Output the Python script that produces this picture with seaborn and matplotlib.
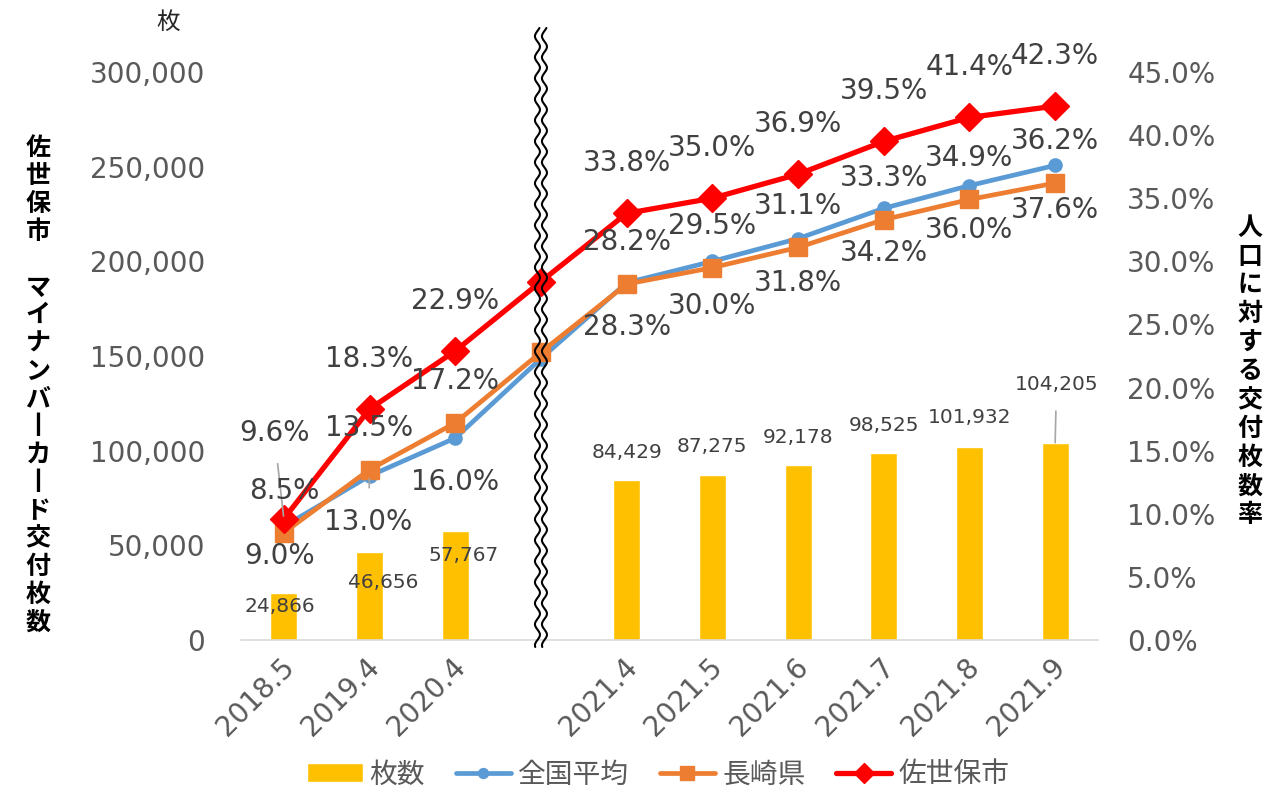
import numpy as np
import pandas as pd
import matplotlib
matplotlib.use('Agg')
import matplotlib.pyplot as plt
import seaborn as sns
from matplotlib.lines import Line2D
from matplotlib.transforms import IdentityTransform, ScaledTranslation
from matplotlib.ticker import FuncFormatter

# data
categories = ["2018.5", "2019.4", "2020.4", "", "2021.4", "2021.5", "2021.6", "2021.7", "2021.8", "2021.9"]
cards = [24866, 46656, 57767, np.nan, 84429, 87275, 92178, 98525, 101932, 104205]
national = [9.0, 13.0, 16.0, 22.3, 28.3, 30.0, 31.8, 34.2, 36.0, 37.6]
nagasaki = [8.5, 13.5, 17.2, 22.8, 28.2, 29.5, 31.1, 33.3, 34.9, 36.2]
sasebo = [9.6, 18.3, 22.9, 28.4, 33.8, 35.0, 36.9, 39.5, 41.4, 42.3]

left_label = "佐世保市　マイナンバ丨カ丨ド交付枚数"
right_label = "人口に対する交付枚数率"

sns.set_style("white")
plt.rcParams['font.family'] = ['DejaVu Sans', 'Noto Sans CJK JP']

W, H = 1278, 808
fig = plt.figure(figsize=(W / 100, H / 100), dpi=100)
ax = fig.add_axes([241 / W, 1 - 640 / H, (1098 - 241) / W, (640 - 72) / H])
ax2 = ax.twinx()

pos = list(range(len(categories)))
df = pd.DataFrame({"cat": categories, "pos": pos, "cards": cards})
bars = df.dropna()

sns.barplot(data=bars, x="cat", y="cards", order=categories, color="#FFC000",
            saturation=1, width=0.315, ax=ax, label="枚数", errorbar=None)
if ax.get_legend() is not None:
    ax.get_legend().remove()

TXT = "#404040"
TICK = "#595959"

# lines on the right axis
series = [
    ("全国平均", national, "#5B9BD5", "o", 9.5, 3.4),
    ("長崎県", nagasaki, "#ED7D31", "s", 13, 3.4),
    ("佐世保市", sasebo, "#FF0000", "D", 14, 3.8),
]
for name, vals, col, mk, ms, lw in series:
    sns.lineplot(x=pos, y=vals, ax=ax2, color=col, marker=mk, markersize=ms,
                 markeredgecolor=col, markeredgewidth=1, linewidth=lw,
                 label=name, legend=False)
if ax2.get_legend() is not None:
    ax2.get_legend().remove()

ax.set_ylim(0, 300000)
ax2.set_ylim(0, 45)
ax.set_xlim(-0.5, 9.5)
ax2.set_xlim(-0.5, 9.5)

# data labels
lbl = dict(ha="center", va="center", fontsize=20, color=TXT, textcoords="offset points")
lead = dict(arrowstyle="-", color="#A6A6A6", lw=1.2)
for i, c in enumerate(categories):
    if c == "":
        continue
    # 佐世保市
    if i == 0:
        ax2.annotate(f"{sasebo[i]:.1f}%", (i, sasebo[i]), xytext=(-7, 62),
                     arrowprops=dict(lead, shrinkA=10, shrinkB=2), **lbl)
    else:
        ax2.annotate(f"{sasebo[i]:.1f}%", (i, sasebo[i]), xytext=(0, 36), **lbl)
    # 長崎県
    ax2.annotate(f"{nagasaki[i]:.1f}%", (i, nagasaki[i]), xytext=(0, 30), **lbl)
    # 全国平均
    if i == 0:
        ax2.annotate(f"{national[i]:.1f}%", (i, national[i]), xytext=(-3, -21), **lbl)
    elif i == 1:
        ax2.annotate(f"{national[i]:.1f}%", (i, national[i]), xytext=(-1, -33),
                     arrowprops=dict(lead, shrinkA=12, shrinkB=2), **lbl)
    else:
        ax2.annotate(f"{national[i]:.1f}%", (i, national[i]), xytext=(0, -32), **lbl)

bar_offsets = [(-3, -10), (10, -22), (6, -18), None, (0, 20), (0, 20), (0, 20), (0, 20), (0, 21), (1, 42)]
for i, v in enumerate(cards):
    if np.isnan(v):
        continue
    kw = dict(ha="center", va="center", fontsize=14.5, color=TXT, textcoords="offset points")
    if i == len(cards) - 1:
        kw["arrowprops"] = dict(lead, shrinkA=10, shrinkB=0)
    ax.annotate(f"{int(v):,}", (i, v), xytext=bar_offsets[i], **kw)

# axes styling
ax.yaxis.set_major_formatter(FuncFormatter(lambda v, p: f"{int(v):,}"))
ax2.yaxis.set_major_formatter(FuncFormatter(lambda v, p: f"{v:.1f}%"))
ax.set_yticks(np.arange(0, 300001, 50000))
ax2.set_yticks(np.arange(0, 45.1, 5))
ax.tick_params(axis="y", length=0, pad=26, labelsize=20, labelcolor=TICK)
ax2.tick_params(axis="y", length=0, pad=21, labelsize=20, labelcolor=TICK)
ax.set_xticks(pos)
ax.set_xticklabels(categories)
ax.tick_params(axis="x", length=0, pad=16, labelsize=20, labelcolor=TICK)
shift = ScaledTranslation(6 / 100, 0, fig.dpi_scale_trans)
for t in ax.get_xticklabels():
    t.set_rotation(45)
    t.set_rotation_mode("anchor")
    t.set_ha("right")
    t.set_va("center")
    t.set_transform(t.get_transform() + shift)
ax.set_xlabel("")
ax.set_ylabel("")
ax2.set_ylabel("")
for s in ["top", "left", "right"]:
    ax.spines[s].set_visible(False)
for s in ax2.spines.values():
    s.set_visible(False)
ax.spines["bottom"].set_color("#D9D9D9")
ax.spines["bottom"].set_linewidth(1.2)

# axis titles, stacked vertically
for k, ch in enumerate(left_label):
    fig.text(38 / W, 1 - (148 + k * 27.9) / H, ch, ha="center", va="center",
             fontsize=18, fontweight="bold", color="black", family="Noto Sans CJK JP")
for k, ch in enumerate(right_label):
    fig.text(1250 / W, 1 - (228 + k * 28.7) / H, ch, ha="center", va="center",
             fontsize=18, fontweight="bold", color="black", family="Noto Sans CJK JP")
fig.text(168 / W, 1 - 22 / H, "枚", ha="center", va="center", fontsize=17,
         color="#262626", family="Noto Sans CJK JP")

# broken-axis mark
xc = ax.transData.transform((3, 0))[0]
yy = np.linspace(H - 647, H - 28, 800)
for dx in (-3.5, 3.5):
    xx = xc + dx + 2.5 * np.sin(2 * np.pi * yy / 21)
    fig.add_artist(Line2D(xx, yy, transform=IdentityTransform(), color="black",
                          lw=1.5, zorder=10))

# legend
h1, l1 = ax.get_legend_handles_labels()
h2, l2 = ax2.get_legend_handles_labels()
leg = fig.legend(h1 + h2, l1 + l2, loc="lower center", bbox_to_anchor=(0.515, -0.008),
                 ncol=4, frameon=False, fontsize=20, handlelength=2.0,
                 handletextpad=0.25, columnspacing=1.1, markerscale=0.75)
for t in leg.get_texts():
    t.set_color(TICK)
    t.set_family("Noto Sans CJK JP")

fig.savefig("out.png", dpi=100)
